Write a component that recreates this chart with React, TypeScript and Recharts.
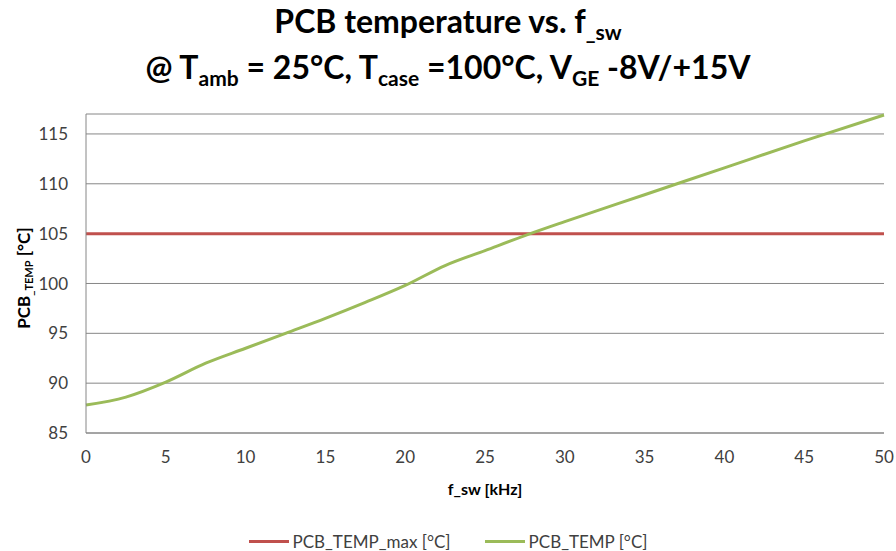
import React from "react";
import { LineChart, Line, XAxis, YAxis, CartesianGrid } from "recharts";

const fswKHz = [0, 2.5, 5, 7.5, 10, 12.5, 15, 17.5, 20, 22.5, 25, 27.5, 30, 35, 40, 45, 50];
const pcbTemp = [87.8, 88.6, 90.1, 92.0, 93.5, 95.0, 96.5, 98.1, 99.8, 101.8, 103.3, 104.8, 106.2, 108.9, 111.6, 114.3, 116.9];
const pcbTempMax = 105;
const xTicks = [0, 5, 10, 15, 20, 25, 30, 35, 40, 45, 50];
const yTicks = [85, 90, 95, 100, 105, 110, 115];

const data = fswKHz.map((f, i) => ({ f, temp: pcbTemp[i], max: pcbTempMax }));

const RED = "#C0504D";
const GREEN = "#9BBB59";
const FONT = "Lato, 'Open Sans', sans-serif";

const subStyle: React.CSSProperties = { fontSize: 21, verticalAlign: "-7px" };

export default function App() {
  return (
    <div style={{ position: "absolute", left: 0, top: 0, width: 896, height: 551, background: "#fff", fontFamily: FONT }}>
      <div style={{ position: "absolute", left: 0, top: 3, width: 896, textAlign: "center", fontWeight: 700, fontSize: 32, lineHeight: "35px", color: "#000" }}>
        <div>PCB temperature vs. f<sub style={subStyle}>_sw</sub></div>
        <div>@ T<sub style={subStyle}>amb</sub> = 25°C, T<sub style={subStyle}>case</sub> =100°C, V<sub style={subStyle}>GE</sub> -8V/+15V</div>
      </div>
      <div style={{ position: "absolute", left: 0, top: 0 }}>
        <LineChart width={896} height={551} data={data} margin={{ top: 114, right: 12, bottom: 0, left: 0 }}>
          <CartesianGrid vertical={false} stroke="#868686" strokeWidth={1} />
          <XAxis
            type="number"
            dataKey="f"
            domain={[0, 50]}
            ticks={xTicks}
            height={118}
            tickLine={false}
            tickSize={0}
            tickMargin={18}
            axisLine={{ stroke: "#868686" }}
            tick={{ fill: "#404040", fontSize: 17, fontFamily: FONT }}
            label={{ value: "f_sw [kHz]", position: "insideTop", offset: 51, fill: "#000", fontWeight: 700, fontSize: 16, fontFamily: FONT }}
          />
          <YAxis
            type="number"
            domain={[85, 117]}
            ticks={yTicks}
            width={86}
            tickLine={false}
            tickSize={0}
            tickMargin={18}
            axisLine={{ stroke: "#868686" }}
            tick={{ fill: "#404040", fontSize: 17, fontFamily: FONT }}
          />
          <text x={23} y={278} transform="rotate(-90 23 278)" textAnchor="middle" dominantBaseline="central" fontFamily={FONT} fontWeight={700} fontSize={17} fill="#000">
            PCB<tspan fontSize={11} dy={5}>_TEMP</tspan><tspan dy={-5}> [°C]</tspan>
          </text>
          <Line type="monotone" dataKey="max" stroke={RED} strokeWidth={3} dot={false} isAnimationActive={false} />
          <Line type="monotone" dataKey="temp" stroke={GREEN} strokeWidth={3} dot={false} isAnimationActive={false} />
        </LineChart>
      </div>
      <div style={{ position: "absolute", left: 0, top: 531, width: 896, display: "flex", justifyContent: "center", alignItems: "center", fontSize: 17, color: "#404040" }}>
        <span style={{ display: "inline-block", width: 40, height: 3, background: RED, marginRight: 4 }} />
        <span style={{ marginRight: 34 }}>PCB_TEMP_max [°C]</span>
        <span style={{ display: "inline-block", width: 40, height: 3, background: GREEN, marginRight: 4 }} />
        <span>PCB_TEMP [°C]</span>
      </div>
    </div>
  );
}
